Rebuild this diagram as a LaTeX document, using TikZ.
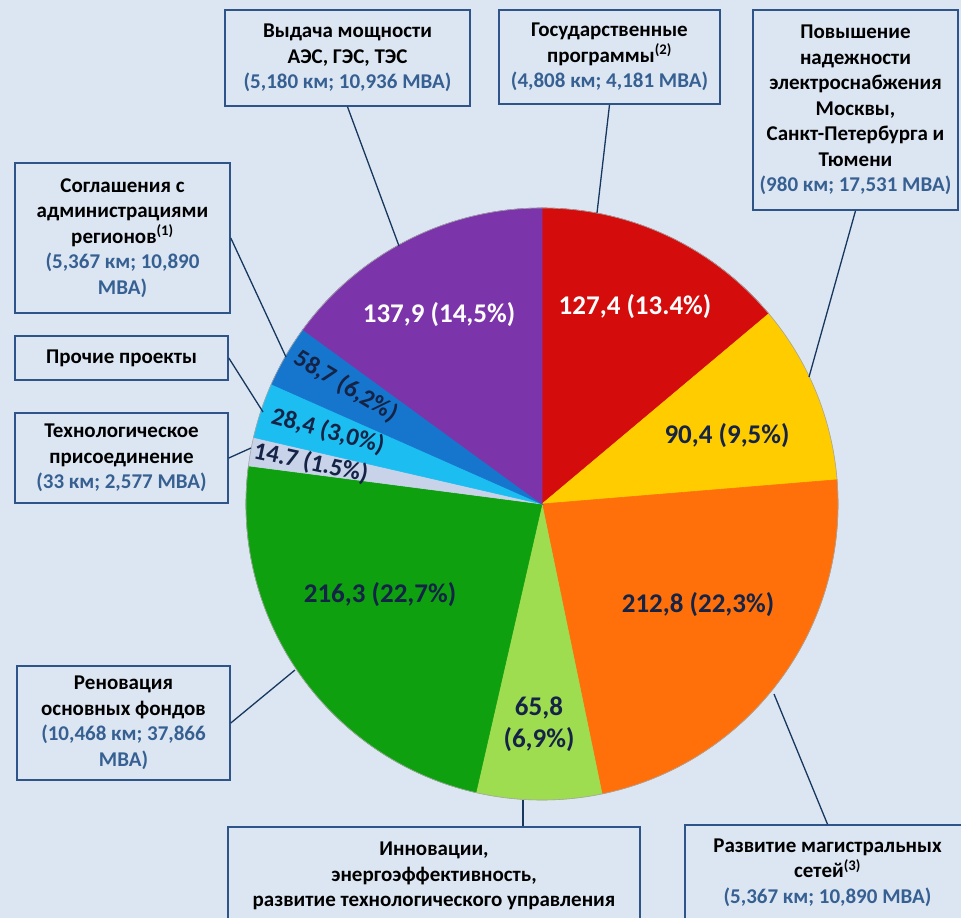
\documentclass[tikz,border=0pt]{standalone}
\usepackage{fontspec}
\setmainfont{Carlito}

\definecolor{bgblue}{RGB}{220,230,242}
\definecolor{boxline}{RGB}{46,84,138}
\definecolor{txtblue}{RGB}{55,96,146}
\definecolor{leaderline}{RGB}{23,55,94}
\definecolor{darknavy}{RGB}{20,35,70}
\definecolor{sliceRed}{RGB}{212,12,12}
\definecolor{sliceYellow}{RGB}{255,204,0}
\definecolor{sliceOrange}{RGB}{255,112,10}
\definecolor{sliceLime}{RGB}{158,220,80}
\definecolor{sliceGreen}{RGB}{14,160,14}
\definecolor{sliceGrey}{RGB}{200,210,232}
\definecolor{sliceCyan}{RGB}{28,190,242}
\definecolor{sliceBlue}{RGB}{22,118,206}
\definecolor{slicePurple}{RGB}{124,52,170}

\tikzset{
  infobox/.style={draw=boxline, line width=1.6pt, fill=bgblue, align=center,
    inner sep=0pt, font=\fontsize{21}{25.5}\selectfont\bfseries},
  leader/.style={draw=leaderline, line width=1.3pt},
  slice/.style={draw=black!35, line width=0.6pt},
  slicelabel/.style={text=darknavy, align=center, inner sep=0pt,
    font=\fontsize{27}{32}\selectfont\bfseries},
  smalllabel/.style={slicelabel, font=\fontsize{25}{30}\selectfont\bfseries},
  whitelabel/.style={slicelabel, text=white},
}

\begin{document}
\begin{tikzpicture}[x=1pt, y=-1pt]
    \useasboundingbox (0,0) rectangle (961,918);
    \clip (0,0) rectangle (961,918);
    \fill[bgblue] (0,0) rectangle (961,918);

    % круговая диаграмма
    \coordinate (c) at (542,504);
    \fill[slice, sliceRed]    (c) -- ++(-90:296) arc[start angle=-90, end angle=-40, radius=296] -- cycle;
    \fill[slice, sliceYellow] (c) -- ++(-40:296) arc[start angle=-40, end angle=-4.7, radius=296] -- cycle;
    \fill[slice, sliceOrange] (c) -- ++(-4.7:296) arc[start angle=-4.7, end angle=78.3, radius=296] -- cycle;
    \fill[slice, sliceLime]   (c) -- ++(78.3:296) arc[start angle=78.3, end angle=102.9, radius=296] -- cycle;
    \fill[slice, sliceGreen]  (c) -- ++(102.9:296) arc[start angle=102.9, end angle=187.4, radius=296] -- cycle;
    \fill[slice, sliceGrey]   (c) -- ++(187.4:296) arc[start angle=187.4, end angle=193, radius=296] -- cycle;
    \fill[slice, sliceCyan]   (c) -- ++(193:296) arc[start angle=193, end angle=203.9, radius=296] -- cycle;
    \fill[slice, sliceBlue]   (c) -- ++(203.9:296) arc[start angle=203.9, end angle=216.1, radius=296] -- cycle;
    \fill[slice, slicePurple] (c) -- ++(216.1:296) arc[start angle=216.1, end angle=270, radius=296] -- cycle;
    \draw[slice] (c) circle[radius=296];

    \node[whitelabel] (lRed) at (635,307) {127,4 (13.4\%)};
    \node[slicelabel] (lYellow) at (727,436) {90,4 (9,5\%)};
    \node[slicelabel] (lOrange) at (698,605) {212,8 (22,3\%)};
    \node[slicelabel] (lLime) at (539,724) {65,8\\(6,9\%)};
    \node[slicelabel] (lGreen) at (380,595) {216,3 (22,7\%)};
    \node[smalllabel, rotate=-12] (lGrey) at (311,463) {14.7 (1.5\%)};
    \node[smalllabel, rotate=-15] (lCyan) at (328,431) {28,4 (3,0\%)};
    \node[smalllabel, rotate=-31] (lBlue) at (346,386) {58,7 (6,2\%)};
    \node[whitelabel] (lPurple) at (439,315) {137,9 (14,5\%)};

    % подписи
    \node[infobox, minimum width=245, minimum height=96] (vyd) at (347.5,58)
      {Выдача мощности\\АЭС, ГЭС, ТЭС\\\textcolor{txtblue}{(5,180 км; 10,936 МВА)}};
    \node[infobox, minimum width=221, minimum height=94] (gos) at (609.5,57)
      {Государственные\\программы\textsuperscript{(2)}\\\textcolor{txtblue}{(4,808 км; 4,181 МВА)}};
    \node[infobox, minimum width=205, minimum height=200] (pov) at (855.5,110)
      {Повышение\\надежности\\электроснабжения\\Москвы,\\Санкт-Петербурга и\\Тюмени\\\textcolor{txtblue}{(980 км; 17,531 МВА)}};
    \node[infobox, minimum width=215, minimum height=150] (sogl) at (122.5,238)
      {Соглашения с\\администрациями\\регионов\textsuperscript{(1)}\\\textcolor{txtblue}{(5,367 км; 10,890}\\\textcolor{txtblue}{МВА)}};
    \node[infobox, minimum width=213, minimum height=44] (proch) at (121.5,358)
      {Прочие проекты};
    \node[infobox, minimum width=213, minimum height=90] (tech) at (121.5,458)
      {Технологическое\\присоединение\\\textcolor{txtblue}{(33 км; 2,577 МВА)}};
    \node[infobox, minimum width=213, minimum height=114] (renov) at (123.5,723)
      {Реновация\\основных фондов\\\textcolor{txtblue}{(10,468 км; 37,866}\\\textcolor{txtblue}{МВА)}};
    \node[infobox, minimum width=412, minimum height=98] (innov) at (434,876)
      {Инновации,\\энергоэффективность,\\развитие технологического управления};
    \node[infobox, minimum width=285, minimum height=95] (razv) at (827.5,872.5)
      {Развитие магистральных\\сетей\textsuperscript{(3)}\\\textcolor{txtblue}{(5,367 км; 10,890 МВА)}};

    \coordinate (vydEnd) at (399,246);
    \coordinate (gosEnd) at (597,213);
    \coordinate (povEnd) at (809,377);
    \coordinate (soglEnd) at (286,357);
    \coordinate (prochEnd) at (263,412);
    \coordinate (techEnd) at (251,448);
    \coordinate (renovEnd) at (295,670);
    \coordinate (innovEnd) at (523,800);
    \coordinate (razvEnd) at (774,694);

    \draw[leader] (vyd.south) -- (vydEnd);
    \draw[leader] (gos.south) -- (gosEnd);
    \draw[leader] (pov.south) -- (povEnd);
    \draw[leader] (sogl.east) -- (soglEnd);
    \draw[leader] (proch.east) -- (prochEnd);
    \draw[leader] (tech.east) -- (techEnd);
    \draw[leader] (renov.east) -- (renovEnd);
    \draw[leader] (innovEnd) -- (innovEnd |- innov.north);
    \draw[leader] (razvEnd) -- (razv.north);

  \end{tikzpicture}
\end{document}
